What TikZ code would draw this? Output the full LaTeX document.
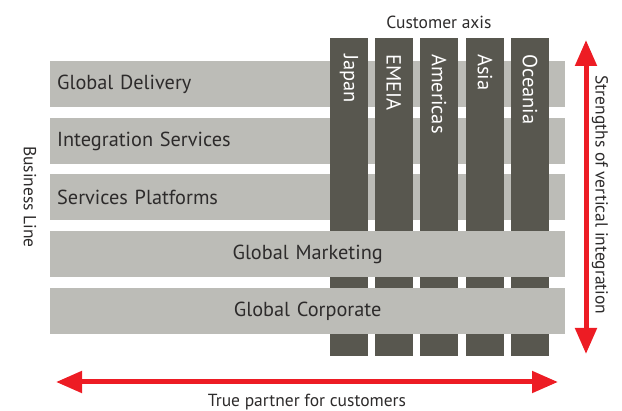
\documentclass[tikz,border=0pt]{standalone}
\usepackage{fontspec}
\setmainfont{PT Sans}
\usetikzlibrary{arrows.meta}
\definecolor{barfill}{RGB}{188,188,183}
\definecolor{colfill}{RGB}{88,87,79}
\definecolor{darktext}{RGB}{45,43,43}
\definecolor{arrowred}{RGB}{237,28,36}
\tikzset{
    bar/.style={fill=barfill, text=darktext, minimum height=46pt, text width=501pt,
        inner xsep=7pt, inner ysep=0pt, anchor=north west, font=\fontsize{20.3}{20}\selectfont},
    region/.style={fill=colfill, minimum width=38pt, minimum height=318pt, inner sep=0pt, anchor=north},
    regionlabel/.style={text=white, rotate=-90, anchor=west, inner sep=0pt, font=\fontsize{20.5}{20}\selectfont},
    axislabel/.style={text=darktext, inner sep=0pt, font=\fontsize{17.5}{17}\selectfont},
    redarrow/.style={draw=arrowred, line width=5pt, {Triangle[length=26pt, width=21pt]}-{Triangle[length=26pt, width=21pt]}}
}
\begin{document}
\begin{tikzpicture}[x=1pt, y=-1pt]
    \useasboundingbox (0,0) rectangle (622,411);

    \node[bar, align=left] (delivery) at (50,61) {Global Delivery};
    \node[bar, align=left] (integration) at (50,118) {Integration Services};
    \node[bar, align=left] (platforms) at (50,174) {Services Platforms};

    \node[region] (japan) at (349,38) {};
    \node[region] (emeia) at (394,38) {};
    \node[region] (americas) at (439,38) {};
    \node[region] (asia) at (485,38) {};
    \node[region] (oceania) at (530,38) {};
    \node[regionlabel] (japanl) at ([yshift=-16pt]japan.north) {Japan};
    \node[regionlabel] (emeial) at ([yshift=-16pt]emeia.north) {EMEIA};
    \node[regionlabel] (americasl) at ([yshift=-16pt]americas.north) {Americas};
    \node[regionlabel] (asial) at ([yshift=-16pt]asia.north) {Asia};
    \node[regionlabel] (oceanial) at ([yshift=-16pt]oceania.north) {Oceania};

    \node[bar, align=center] (marketing) at (50,231) {Global Marketing};
    \node[bar, align=center] (corporate) at (50,288) {Global Corporate};

    \node[axislabel] (customer) at (439,22) {Customer axis};
    \node[axislabel, rotate=-90] (business) at (30,197) {Business Line};
    \node[axislabel, rotate=-90] (strengths) at (600,195) {Strengths of vertical integration};
    \node[axislabel] (partner) at (307,402) {True partner for customers};

    \coordinate (vtop) at (586,40);
    \coordinate (vbottom) at (586,354);
    \coordinate (hleft) at (56,382);
    \coordinate (hright) at (558,382);
    \draw[redarrow] (vtop) -- (vbottom);
    \draw[redarrow] (hleft) -- (hright);
\end{tikzpicture}
\end{document}
